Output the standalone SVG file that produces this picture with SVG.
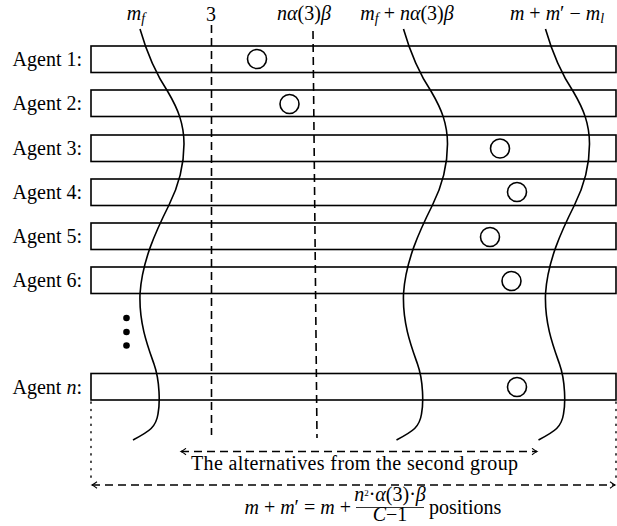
<svg xmlns="http://www.w3.org/2000/svg" xmlns:xlink="http://www.w3.org/1999/xlink" width="617" height="526" viewBox="0 0 617 526">
<style>
  .row { fill: #fff; stroke: #000; stroke-width: 1.6; }
  .lbl { font-family: "Liberation Serif", "Times New Roman", serif; font-size: 20px; fill: #000; }
  .math { font-family: "Liberation Serif", "Times New Roman", serif; font-size: 20px; fill: #000; }
  .it { font-style: italic; }
  .ball { fill: none; stroke: #000; stroke-width: 1.6; }
  .wave { fill: none; stroke: #000; stroke-width: 1.6; }
  .vdash { stroke: #000; stroke-width: 1.6; stroke-dasharray: 8 5; fill: none; }
  .hdash { stroke: #000; stroke-width: 1.6; stroke-dasharray: 8 5; fill: none; }
  .dot { stroke: #000; stroke-width: 1.4; stroke-dasharray: 1.2 6.2; stroke-linecap: round; fill: none; }
</style>
<defs>
  <marker id="arr" viewBox="-6 -4 8 8" refX="0" refY="0" markerWidth="8" markerHeight="8" markerUnits="userSpaceOnUse" orient="auto-start-reverse">
    <path d="M-5,-3.2 Q-1.5,-0.6 0,0 Q-1.5,0.6 -5,3.2" fill="none" stroke="#000" stroke-width="1.1"/>
  </marker>
  <path id="wavepath" class="wave" d="M0,0 C8,28 18,48 28,63 C38,80 44,95 44,115 C44,140 38,158 29,176 C16,202 2,232 0,265 C-1,295 8,318 14,335 C20,352 20,375 18,385 C16,398 10,402 -7,411"/>
</defs>

<g id="agent1">
  <rect class="row" x="91" y="46" width="525" height="26.5"/>
  <text class="lbl" x="82" y="66" text-anchor="end">Agent 1:</text>
  <circle class="ball" cx="257" cy="59" r="9.5"/>
</g>
<g id="agent2">
  <rect class="row" x="91" y="90" width="525" height="26.5"/>
  <text class="lbl" x="82" y="110" text-anchor="end">Agent 2:</text>
  <circle class="ball" cx="289.5" cy="104" r="9.5"/>
</g>
<g id="agent3">
  <rect class="row" x="91" y="135" width="525" height="26.5"/>
  <text class="lbl" x="82" y="155" text-anchor="end">Agent 3:</text>
  <circle class="ball" cx="500" cy="148.5" r="9.5"/>
</g>
<g id="agent4">
  <rect class="row" x="91" y="179" width="525" height="26.5"/>
  <text class="lbl" x="82" y="199" text-anchor="end">Agent 4:</text>
  <circle class="ball" cx="517" cy="192" r="9.5"/>
</g>
<g id="agent5">
  <rect class="row" x="91" y="223" width="525" height="26.5"/>
  <text class="lbl" x="82" y="243" text-anchor="end">Agent 5:</text>
  <circle class="ball" cx="490" cy="237" r="9.5"/>
</g>
<g id="agent6">
  <rect class="row" x="91" y="267" width="525" height="26.5"/>
  <text class="lbl" x="82" y="287" text-anchor="end">Agent 6:</text>
  <circle class="ball" cx="511.5" cy="281" r="9.5"/>
</g>
<g id="ellipsis">
  <circle cx="126.5" cy="318" r="3.3" fill="#000"/>
  <circle cx="126.5" cy="332" r="3.3" fill="#000"/>
  <circle cx="126.5" cy="345.5" r="3.3" fill="#000"/>
</g>
<g id="agentn">
  <rect class="row" x="91" y="373.5" width="525" height="26.5"/>
  <text class="lbl" x="82" y="393.5" text-anchor="end">Agent <tspan class="it">n</tspan>:</text>
  <circle class="ball" cx="517" cy="387" r="9.5"/>
</g>

<g id="connectors">
  <line class="vdash" x1="211.5" y1="25" x2="211.5" y2="435"/>
  <line class="vdash" x1="313" y1="31" x2="317" y2="438"/>
  <use xlink:href="#wavepath" href="#wavepath" x="140" y="29"/>
  <use xlink:href="#wavepath" href="#wavepath" x="403.5" y="29"/>
  <use xlink:href="#wavepath" href="#wavepath" x="545.5" y="29"/>
  <line class="dot" x1="91" y1="402" x2="91" y2="482"/>
  <line class="dot" x1="616" y1="402" x2="616" y2="482"/>
  <line class="hdash" x1="181" y1="451.5" x2="537" y2="451.5" marker-start="url(#arr)" marker-end="url(#arr)"/>
  <line class="hdash" x1="92" y1="485" x2="615" y2="485" marker-start="url(#arr)" marker-end="url(#arr)"/>
</g>

<g id="top-labels">
  <text class="math" x="136" y="20" text-anchor="middle"><tspan class="it">m</tspan><tspan class="it" font-size="14" dy="3">f</tspan></text>
  <text class="math" x="211" y="21" text-anchor="middle">3</text>
  <text class="math" x="304" y="20" text-anchor="middle"><tspan class="it">nα</tspan>(3)<tspan class="it">β</tspan></text>
  <text class="math" x="407" y="20" text-anchor="middle"><tspan class="it">m</tspan><tspan class="it" font-size="14" dy="3">f</tspan><tspan dy="-3"> + </tspan><tspan class="it">nα</tspan>(3)<tspan class="it">β</tspan></text>
  <text class="math" x="557" y="20" text-anchor="middle"><tspan class="it">m</tspan> + <tspan class="it">m</tspan>′ − <tspan class="it">m</tspan><tspan class="it" font-size="14" dy="3">l</tspan></text>
</g>

<g id="bottom-labels">
  <text class="lbl" x="191" y="470" font-size="19" textLength="327" lengthAdjust="spacing">The alternatives from the second group</text>
  <text class="math" x="351" y="514" text-anchor="end"><tspan class="it">m</tspan> + <tspan class="it">m</tspan>′ = <tspan class="it">m</tspan> +</text>
  <text class="math" x="390" y="501" font-size="13" text-anchor="middle"><tspan class="it">n</tspan><tspan font-size="9" dy="-5">2</tspan><tspan dy="5">·</tspan><tspan class="it">α</tspan>(3)·<tspan class="it">β</tspan></text>
  <line x1="356" y1="507.5" x2="424" y2="507.5" stroke="#000" stroke-width="0.8"/>
  <text class="math" x="390" y="521" font-size="13" text-anchor="middle"><tspan class="it">C</tspan>−1</text>
  <text class="lbl" x="429" y="514">positions</text>
</g>
</svg>
